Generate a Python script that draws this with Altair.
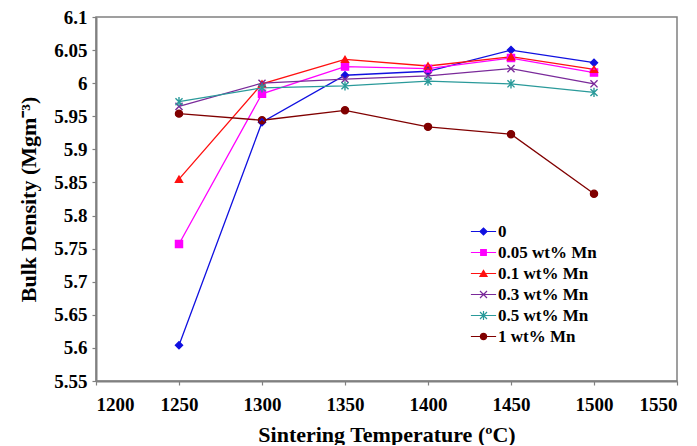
import altair as alt
import pandas as pd

temps = [1250, 1300, 1350, 1400, 1450, 1500]
series_names = ["0", "0.05 wt% Mn", "0.1 wt% Mn", "0.3 wt% Mn", "0.5 wt% Mn", "1 wt% Mn"]
s_0 = [5.604, 5.941, 6.012, 6.018, 6.050, 6.031]
s_005 = [5.757, 5.984, 6.025, 6.022, 6.038, 6.016]
s_01 = [5.855, 5.999, 6.036, 6.026, 6.040, 6.021]
s_03 = [5.965, 6.000, 6.006, 6.011, 6.022, 5.999]
s_05 = [5.972, 5.993, 5.996, 6.003, 5.999, 5.986]
s_1 = [5.954, 5.944, 5.959, 5.934, 5.923, 5.833]
x_ticks = [1200, 1250, 1300, 1350, 1400, 1450, 1500, 1550]
y_ticks = [5.55, 5.6, 5.65, 5.7, 5.75, 5.8, 5.85, 5.9, 5.95, 6.0, 6.05, 6.1]

colors = ["#1010e0", "#ff00ff", "#ff1010", "#7a2a9a", "#2a9a9a", "#800000"]
X_PATH = "M-1,-1L1,1M1,-1L-1,1"
AST_PATH = "M-1,-1L1,1M1,-1L-1,1M0,-1.3L0,1.3"
plot_shapes = ["diamond", "square", "triangle-up", X_PATH, AST_PATH, "circle"]
LINE = "M-3.6,0H3.6"
legend_shapes = [
    LINE + "M-1,0L0,-1L1,0L0,1Z",
    LINE + "M-0.8,-0.8H0.8V0.8H-0.8Z",
    LINE + "M-1,0.8L0,-0.9L1,0.8Z",
    LINE + X_PATH,
    LINE + AST_PATH,
    LINE + "M-0.9,0A0.9,0.9 0 1,0 0.9,0A0.9,0.9 0 1,0 -0.9,0Z",
]

rows = []
for name, vals in zip(series_names, [s_0, s_005, s_01, s_03, s_05, s_1]):
    for t, v in zip(temps, vals):
        rows.append({"temp": t, "density": v, "series": name})
df = pd.DataFrame(rows)

FONT = "Liberation Serif"
GREY = "#808080"

x = alt.X("temp:Q", scale=alt.Scale(domain=[1200, 1550], nice=False, zero=False),
          axis=alt.Axis(values=x_ticks, format="d", title="Sintering Temperature (ºC)",
                        labelFont=FONT, titleFont=FONT, labelPadding=10, titlePadding=10))
y = alt.Y("density:Q", scale=alt.Scale(domain=[5.55, 6.1], nice=False, zero=False),
          axis=alt.Axis(values=y_ticks, format="~g", title="Bulk Density (Mgm⁻³)",
                        labelFont=FONT, titleFont=FONT, labelPadding=5, titlePadding=13))
cscale = alt.Scale(domain=series_names, range=colors)
color = alt.Color("series:N", scale=cscale, legend=None)

lines = alt.Chart(df).mark_line(strokeWidth=1.3).encode(x=x, y=y, color=color, order="temp:Q")
points = alt.Chart(df).mark_point(filled=True, size=50, strokeWidth=1.3, opacity=1).encode(
    x=x, y=y, color=color,
    shape=alt.Shape("series:N", scale=alt.Scale(domain=series_names, range=plot_shapes), legend=None),
)
# crosses need a stroke: draw them again unfilled
cross_points = alt.Chart(df).mark_point(filled=False, size=50, strokeWidth=1.4, opacity=1).encode(
    x=x, y=y, color=color,
    shape=alt.Shape("series:N", scale=alt.Scale(domain=series_names, range=plot_shapes), legend=None),
)

leg = alt.Legend(
    title=None, orient="none", legendX=379, legendY=206, padding=0,
    symbolSize=49, symbolStrokeWidth=1.2, symbolOpacity=1,
    labelFont=FONT, labelFontSize=17, labelFontWeight="bold", labelColor="black",
    labelOffset=6, rowPadding=3,
)
legend_layer = alt.Chart(df).mark_point(filled=False, size=49, opacity=0).encode(
    x=x, y=y,
    fill=alt.Fill("series:N", scale=alt.Scale(domain=series_names, range=colors), legend=leg),
    stroke=alt.Stroke("series:N", scale=alt.Scale(domain=series_names, range=colors), legend=leg),
    shape=alt.Shape("series:N", scale=alt.Scale(domain=series_names, range=legend_shapes), legend=leg),
)

chart = alt.layer(lines, points, cross_points, legend_layer).resolve_scale(
    shape="independent", fill="independent", stroke="independent"
).properties(
    width=581, height=364,
    autosize=alt.AutoSizeParams(type="none"),
    padding={"left": 88, "top": 9, "right": 4, "bottom": 64},
).configure_view(stroke=GREY, strokeWidth=1.5).configure_axis(
    labelFont=FONT, labelFontSize=19, labelFontWeight="bold", labelColor="black",
    titleFont=FONT, titleFontSize=22, titleFontWeight="bold", titleColor="black",
    domainColor=GREY, domainWidth=2, tickColor=GREY, tickSize=4, tickWidth=1.2, grid=False,
)

chart.save("out.html", embed_options={"renderer": "svg", "actions": False})
